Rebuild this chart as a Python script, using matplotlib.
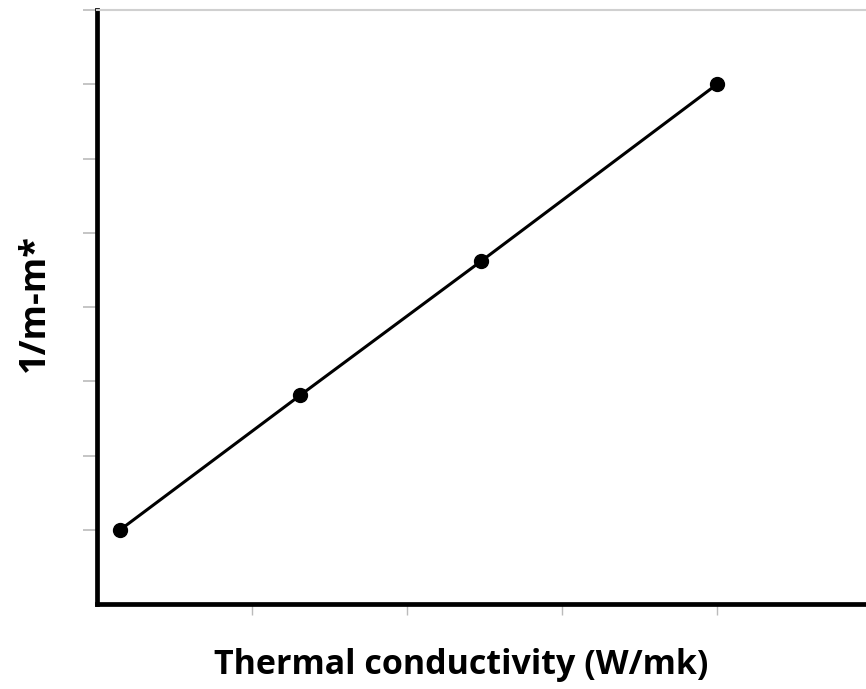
import matplotlib
matplotlib.use("Agg")
import matplotlib.pyplot as plt

conductivity = [0.15, 1.31, 2.48, 4.0]
inv_mass = [1.0, 2.81, 4.62, 7.0]
x_ticks = [1, 2, 3, 4]
y_ticks = [1, 2, 3, 4, 5, 6, 7, 8]
x_label = "Thermal conductivity (W/mk)"
y_label = "1/m-m*"

W, H = 866, 689
fig = plt.figure(figsize=(W / 100, H / 100), dpi=100)
left, right, bottom, top = 97, 866, 604, 10
ax = fig.add_axes([left / W, 1 - bottom / H, (right - left) / W, (bottom - top) / H])

ax.plot(conductivity, inv_mass, color="black", lw=2.2, marker="o", ms=10,
        markerfacecolor="black", markeredgecolor="black", solid_capstyle="round")

ax.set_xlim(0, (right - left) / 155)
ax.set_ylim(0, 8)
ax.set_xticks(x_ticks)
ax.set_yticks(y_ticks)
ax.set_xticklabels([])
ax.set_yticklabels([])
ax.tick_params(axis="y", direction="out", length=10, width=1.2, color="#bbbbbb")
ax.tick_params(axis="x", direction="out", length=8, width=1.0, color="#bbbbbb")

for s in ["left", "bottom"]:
    ax.spines[s].set_linewidth(3.4)
    ax.spines[s].set_color("black")
ax.spines["right"].set_visible(False)
ax.spines["top"].set_color("#d0d0d0")
ax.spines["top"].set_linewidth(1.5)

xfont = dict(family=["Open Sans", "DejaVu Sans"], weight="bold", size=24.5, color="black")
yfont = dict(family=["Open Sans", "DejaVu Sans"], weight="bold", size=26, color="black")
ax.set_xlabel(x_label, **xfont)
ax.set_ylabel(y_label, **yfont)
ax.xaxis.set_label_coords(((205 + 718) / 2 - left) / (right - left), -(665 - bottom) / (bottom - top))
ax.xaxis.label.set_va("center")
ax.yaxis.set_label_coords(-(left - 35) / (right - left), (bottom - 303) / (bottom - top))
ax.yaxis.label.set_va("center")

fig.savefig("out.png", dpi=100)
